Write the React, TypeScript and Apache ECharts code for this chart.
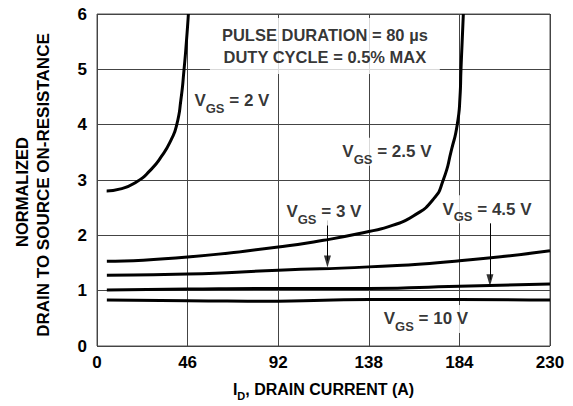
import React, { useEffect, useRef } from "react";
import * as echarts from "echarts";

const FONT = "'Liberation Sans', Arial, Helvetica, sans-serif";

// x: drain current (A), y: normalized on-resistance
const xMin = 0;
const xMax = 230;
const xStep = 46;
const yMin = 0;
const yMax = 6;
const yStep = 1;

const vgs2V: number[][] = [
  [4.9, 2.8], [12, 2.84], [20.2, 2.97], [26.9, 3.17], [32.8, 3.43], [37.7, 3.73],
  [40.5, 4.0], [42.6, 4.45], [44.2, 5.0], [45.4, 5.5], [46.4, 6.0],
];
const vgs25V: number[][] = [
  [5, 1.53], [46, 1.61], [92, 1.79], [115, 1.91],
  [138, 2.07], [150, 2.18], [160.6, 2.35], [170.7, 2.65],
  [175.8, 3.0], [180, 3.55], [182.9, 4.0], [184.3, 4.5], [184.8, 5.0], [185.4, 5.5], [186, 6.0],
];
const vgs3V: number[][] = [
  [5, 1.28], [46, 1.3], [92, 1.37], [138, 1.43], [184, 1.54], [230, 1.72],
];
const vgs45V: number[][] = [
  [5, 1.01], [46, 1.03], [92, 1.04], [138, 1.04], [184, 1.08], [230, 1.12],
];
const vgs10V: number[][] = [
  [5, 0.83], [46, 0.82], [92, 0.81], [138, 0.84], [184, 0.84], [230, 0.83],
];

// curve labels (V_GS values) and their anchor points in data units
const labelVgs = ["2", "2.5", "3", "4.5", "10"];
const labelX = [68.5, 147.2, 115.2, 198, 167];
const labelY = [4.43, 3.51, 2.43, 2.47, 0.49];

// pointer arrows
const arrowX = [117, 199.5];
const arrowFrom = [2.27, 2.22];
const arrowTo = [1.42, 1.08];

// note box
const noteLines = ["PULSE DURATION = 80 \u00b5s", "DUTY CYCLE = 0.5% MAX"];
const noteX = 115.7;
const noteY = 5.42;

const xAxisName = ["I", "D", ", DRAIN CURRENT (A)"];
const yAxisName = ["NORMALIZED", "DRAIN TO SOURCE ON-RESISTANCE"];

const rich = {
  m: { fontFamily: FONT, fontSize: 17, fontWeight: "bold", color: "#000", lineHeight: 28, verticalAlign: "middle" },
  s: { fontFamily: FONT, fontSize: 13, fontWeight: "bold", color: "#000", lineHeight: 13, verticalAlign: "bottom" },
};

const curveSeries = (data: number[][]) => ({
  type: "line",
  data,
  showSymbol: false,
  symbol: "none",
  smooth: 0.6,
  lineStyle: { color: "#000", width: 3 },
  z: 3,
  silent: true,
});

export default function App() {
  const ref = useRef<HTMLDivElement>(null);
  useEffect(() => {
    if (!ref.current) return;
    document.body.style.margin = "0";
    const chart = echarts.init(ref.current, null, { renderer: "svg" });
    const axisLabelStyle = { fontFamily: FONT, fontSize: 17, fontWeight: "bold", color: "#000" };
    chart.setOption({
      animation: false,
      backgroundColor: "#fff",
      grid: { left: 97, right: 23, top: 14, bottom: 59, show: true, borderColor: "#555", borderWidth: 1 },
      xAxis: {
        type: "value",
        min: xMin,
        max: xMax,
        interval: xStep,
        axisLine: { show: false },
        axisTick: { show: false },
        splitLine: { show: true, lineStyle: { color: "#444", width: 1 } },
        axisLabel: { ...axisLabelStyle, margin: 8 },
        name: `{m|${xAxisName[0]}}{s|${xAxisName[1]}}{m|${xAxisName[2]}}`,
        nameLocation: "middle",
        nameGap: 31,
        nameTextStyle: {
          rich: {
            m: { fontFamily: FONT, fontSize: 16, fontWeight: "bold", color: "#000", lineHeight: 24, verticalAlign: "middle" },
            s: { fontFamily: FONT, fontSize: 11, fontWeight: "bold", color: "#000", lineHeight: 11, verticalAlign: "bottom" },
          },
        },
      },
      yAxis: {
        type: "value",
        min: yMin,
        max: yMax,
        interval: yStep,
        axisLine: { show: false },
        axisTick: { show: false },
        splitLine: { show: true, lineStyle: { color: "#444", width: 1 } },
        axisLabel: { ...axisLabelStyle, margin: 10 },
      },
      graphic: [
        {
          type: "text",
          x: 22,
          y: 192,
          rotation: Math.PI / 2,
          style: {
            text: yAxisName[0],
            fontFamily: FONT,
            fontSize: 16.5,
            fontWeight: "bold",
            fill: "#000",
            textAlign: "center",
            textVerticalAlign: "middle",
            align: "center",
            verticalAlign: "middle",
          },
        },
        {
          type: "text",
          x: 43,
          y: 185,
          rotation: Math.PI / 2,
          style: {
            text: yAxisName[1],
            fontFamily: FONT,
            fontSize: 17,
            fontWeight: "bold",
            fill: "#000",
            textAlign: "center",
            textVerticalAlign: "middle",
            align: "center",
            verticalAlign: "middle",
          },
        },
      ],
      series: [
        curveSeries(vgs2V),
        curveSeries(vgs25V),
        curveSeries(vgs3V),
        curveSeries(vgs45V),
        curveSeries(vgs10V),
        {
          type: "line",
          data: [],
          silent: true,
          markLine: {
            silent: true,
            symbol: ["none", "none"],
            label: { show: false },
            lineStyle: { color: "#000", width: 1, type: "solid" },
            data: arrowX.map((x, i) => [
              { coord: [x, arrowFrom[i]] },
              { coord: [x, arrowTo[i] + 0.12] },
            ]),
          },
        },
        {
          type: "scatter",
          silent: true,
          z: 4,
          symbol: "path://M0,0L6,0L3,11Z",
          symbolSize: [7, 12],
          symbolOffset: [0, -6],
          itemStyle: { color: "#000" },
          data: arrowX.map((x, i) => [x, arrowTo[i]]),
        },
        {
          type: "scatter",
          symbolSize: 0,
          silent: true,
          z: 5,
          data: labelVgs.map((v, i) => ({
            value: [labelX[i], labelY[i]],
            label: {
              show: true,
              position: "inside",
              formatter: `{m|V}{s|GS}{m| = ${v} V}`,
              backgroundColor: "#fff",
              padding: [0, 3],
              rich,
            },
          })),
        },
        {
          type: "scatter",
          symbolSize: 0,
          silent: true,
          z: 5,
          data: [
            {
              value: [noteX, noteY],
              label: {
                show: true,
                position: "inside",
                formatter: noteLines.join("\n"),
                fontFamily: FONT,
                fontSize: 16.5,
                fontWeight: "bold",
                color: "#000",
                lineHeight: 22,
                align: "center",
                backgroundColor: "#fff",
                padding: [6, 12],
              },
            },
          ],
        },
      ],
    });
    return () => chart.dispose();
  }, []);
  return <div ref={ref} style={{ position: "fixed", left: 0, top: 0, width: 573, height: 406 }} />;
}
